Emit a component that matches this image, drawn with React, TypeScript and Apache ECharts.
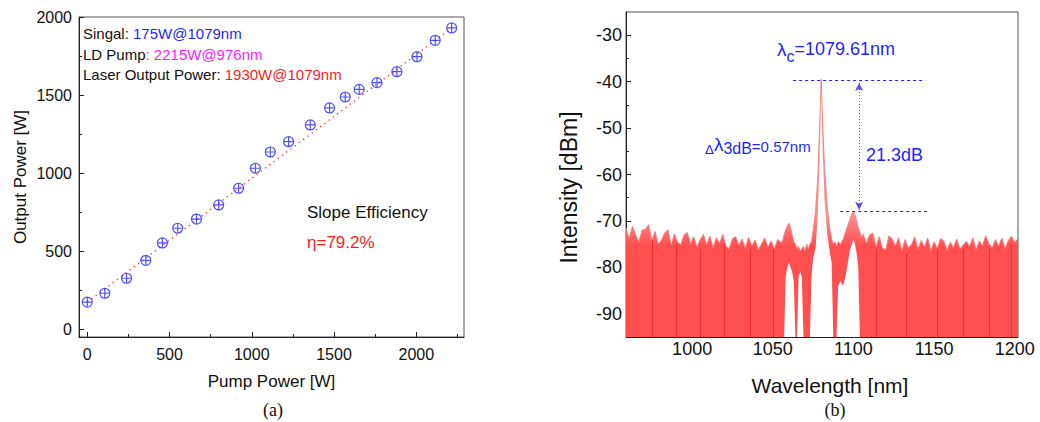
import React, { useEffect, useRef } from "react";
import * as echarts from "echarts";

const SANS = "'Liberation Sans', Arial, Helvetica, sans-serif";
const SERIF = "'Liberation Serif', 'Times New Roman', serif";

// ---------- (a) output power vs pump power ----------
const pumpPower = [0, 107, 239, 356, 457, 550, 664, 799, 920, 1022, 1113, 1224, 1356, 1473, 1568, 1653, 1761, 1882, 2004, 2115, 2215];
const outputPower = [175, 232, 328, 443, 554, 648, 707, 797, 904, 1032, 1136, 1202, 1309, 1418, 1488, 1537, 1580, 1650, 1746, 1851, 1930];
const fitPump = [0, 2215];
const fitOutput = [175, 1930];
const pumpTicks = [0, 500, 1000, 1500, 2000];
const pumpMinorTicks = [250, 750, 1250, 1750, 2250];
const outputTicks = [0, 500, 1000, 1500, 2000];
const outputMinorTicks = [250, 750, 1250, 1750];

// ---------- (b) spectrum ----------
const wavelength = [
  959, 961, 963, 965, 967, 969, 971, 973, 975, 977, 979, 981, 983, 985, 987, 989, 991, 993, 995, 997,
  999, 1001, 1003, 1005, 1007, 1009, 1011, 1013, 1015, 1017, 1019, 1021, 1023, 1025, 1027, 1029, 1031, 1033, 1035, 1037,
  1039, 1041, 1043, 1045, 1047, 1049, 1051, 1053, 1055,
  1056, 1057, 1058, 1059, 1060, 1061, 1062, 1063, 1064, 1065, 1066, 1067, 1068, 1069, 1070, 1071, 1072, 1073, 1074, 1075,
  1076.5, 1078, 1079, 1079.6, 1080, 1080.4, 1081, 1082, 1083.5, 1085, 1086.5, 1087.5, 1088.5, 1089.5, 1090.5, 1092, 1093.5, 1095, 1096.5, 1098,
  1099, 1100, 1101, 1102, 1103, 1104, 1105, 1106,
  1108, 1110, 1112, 1114, 1116, 1118, 1120, 1122, 1124, 1126, 1128, 1130, 1132, 1134, 1136, 1138, 1140, 1142, 1144, 1146,
  1148, 1150, 1152, 1154, 1156, 1158, 1160, 1162, 1164, 1166, 1168, 1170, 1172, 1174, 1176, 1178, 1180, 1182, 1184, 1186,
  1188, 1190, 1192, 1194, 1196, 1198, 1200, 1202,
];
const upperDb = [
  -71.5, -73.8, -71.2, -73.0, -74.5, -72.0, -71.8, -70.8, -74.2, -72.3, -75.0, -74.1, -72.6, -71.9, -75.2, -72.8, -74.6, -75.1, -73.0, -72.5,
  -74.9, -73.4, -75.6, -74.0, -72.9, -75.1, -73.3, -75.8, -73.6, -74.8, -72.9, -75.5, -76.0, -73.8, -73.4, -75.2, -73.9, -75.9, -73.5, -75.4,
  -74.1, -76.2, -75.0, -73.7, -75.6, -74.3, -76.0, -74.0, -74.6,
  -74.5, -73.0, -72.0, -71.0, -70.5, -71.5, -73.0, -74.5, -75.0, -76.0, -75.5, -76.5, -76.0, -75.5, -76.5, -75.0, -76.0, -75.0, -74.5, -72.0,
  -68.0, -60.0, -50.0, -44.0, -39.5, -44.0, -50.0, -58.0, -66.0, -71.0, -74.0, -75.0, -74.5, -75.5, -74.5, -75.0, -74.0, -72.5, -71.0, -69.5,
  -68.5, -68.0, -68.8, -70.0, -71.5, -72.5, -73.5, -72.8,
  -74.8, -73.0, -72.6, -75.5, -73.4, -75.9, -76.2, -73.2, -73.9, -75.4, -73.6, -76.5, -74.0, -75.8, -75.1, -73.4, -76.1, -74.2, -75.6, -73.7,
  -76.4, -74.5, -75.9, -73.8, -74.3, -76.3, -74.6, -75.7, -73.9, -76.0, -75.2, -74.4, -75.5, -73.6, -76.2, -74.3, -75.3, -73.2, -74.9, -75.8,
  -74.0, -75.4, -73.7, -76.0, -74.2, -73.3, -74.6, -73.8,
];
const lowerDb = [
  -95, -95, -95, -95, -95, -95, -95, -95, -95, -95, -95, -95, -95, -95, -95, -95, -95, -95, -95, -95,
  -95, -95, -95, -95, -95, -95, -95, -95, -95, -95, -95, -95, -95, -95, -95, -95, -95, -95, -95, -95,
  -95, -95, -95, -95, -95, -95, -95, -95, -95,
  -95, -95, -82, -80, -79, -80, -81, -83, -95, -95, -82, -81, -82, -95, -95, -95, -95, -95, -82, -78,
  -76, -68, -56, -48, -42, -48, -56, -65, -72, -76, -79, -95, -95, -95, -84, -83, -84, -82, -79, -76,
  -75, -74, -75, -77, -80, -95, -95, -95,
  -95, -95, -95, -95, -95, -95, -95, -95, -95, -95, -95, -95, -95, -95, -95, -95, -95, -95, -95, -95,
  -95, -95, -95, -95, -95, -95, -95, -95, -95, -95, -95, -95, -95, -95, -95, -95, -95, -95, -95, -95,
  -95, -95, -95, -95, -95, -95, -95, -95,
];
// darker streaks seen inside the noise floor
const streakWl = [975, 990, 1005, 1020, 1036, 1050, 1114, 1133, 1152, 1168, 1184, 1198];
const streakTopDb = [-74, -75, -76, -75, -76, -76, -76, -77, -76, -76, -76, -75];

const wlTicks = [1000, 1050, 1100, 1150, 1200];
const wlMinorTicks = [975, 1025, 1075, 1125, 1175];
const dbTicks = [-90, -80, -70, -60, -50, -40, -30];
const dbMinorTicks = [-85, -75, -65, -55, -45, -35];
const peakDb = -39.6;
const sideModeDb = -67.9;

const AX = "#222";
const BLUE = "#1f1fff";
const plain = (v: number) => String(v);

function axisCommon(extra: any) {
  return {
    type: "value",
    splitLine: { show: false },
    axisLine: { show: true, onZero: false, lineStyle: { color: AX, width: 1 } },
    ...extra,
  };
}

export default function App() {
  const ref = useRef<HTMLDivElement>(null);
  useEffect(() => {
    if (!ref.current) return;
    const chart = echarts.init(ref.current, undefined, { renderer: "svg" });

    const scatterData = pumpPower.map((p, i) => [p, outputPower[i]]);
    const fitData = fitPump.map((p, i) => [p, fitOutput[i]]);
    const upperData = wavelength.map((w, i) => [w, upperDb[i]]);
    const lowerData = wavelength.map((w, i) => [w, lowerDb[i]]);
    const streakLines = streakWl.map((w, i) => [{ coord: [w, -95] }, { coord: [w, streakTopDb[i]] }]);

    const leftMin = -50, leftMax = 2290, outMin = -48, outMax = 2000;
    const wlMin = 959, wlMax = 1202, dbMin = -95, dbMax = -25;

    const option: any = {
      animation: false,
      grid: [
        { left: 79, top: 17, width: 385, height: 320, show: true, borderColor: "#555", borderWidth: 1, backgroundColor: "transparent" },
        { left: 626, top: 12, width: 392, height: 325, show: true, borderColor: "#555", borderWidth: 1, backgroundColor: "transparent" },
      ],
      xAxis: [
        axisCommon({
          gridIndex: 0, min: leftMin, max: leftMax, position: "bottom",
          name: "Pump Power [W]", nameLocation: "middle", nameGap: 36,
          nameTextStyle: { fontSize: 17, color: "#111", fontFamily: SANS },
          axisTick: { show: true, inside: true, length: 5, customValues: pumpTicks, lineStyle: { color: AX } },
          axisLabel: { customValues: pumpTicks, formatter: plain, fontSize: 16, color: "#111", margin: 9, fontFamily: SANS },
        }),
        axisCommon({
          gridIndex: 0, min: leftMin, max: leftMax, position: "bottom",
          axisLine: { show: false, onZero: false },
          axisTick: { show: true, inside: true, length: 3, customValues: pumpMinorTicks, lineStyle: { color: AX } },
          axisLabel: { show: false },
        }),
        axisCommon({
          gridIndex: 1, min: wlMin, max: wlMax, position: "bottom",
          name: "Wavelength [nm]", nameLocation: "middle", nameGap: 38,
          nameTextStyle: { fontSize: 21, color: "#111", fontFamily: SANS, padding: [0, 0, 0, 16] },
          axisTick: { show: true, inside: true, length: 5, customValues: wlTicks, lineStyle: { color: AX } },
          axisLabel: { customValues: wlTicks, formatter: plain, fontSize: 18, color: "#111", margin: 3, fontFamily: SANS },
        }),
        axisCommon({
          gridIndex: 1, min: wlMin, max: wlMax, position: "bottom",
          axisLine: { show: false, onZero: false },
          axisTick: { show: true, inside: true, length: 3, customValues: wlMinorTicks, lineStyle: { color: AX } },
          axisLabel: { show: false },
        }),
      ],
      yAxis: [
        axisCommon({
          gridIndex: 0, min: outMin, max: outMax, position: "left",
          name: "Output Power [W]", nameLocation: "middle", nameGap: 50,
          nameTextStyle: { fontSize: 17, color: "#111", fontFamily: SANS },
          axisTick: { show: true, inside: true, length: 5, customValues: outputTicks, lineStyle: { color: AX } },
          axisLabel: { customValues: outputTicks, formatter: plain, fontSize: 16, color: "#111", margin: 7, fontFamily: SANS },
        }),
        axisCommon({
          gridIndex: 0, min: outMin, max: outMax, position: "left",
          axisLine: { show: false, onZero: false },
          axisTick: { show: true, inside: true, length: 3, customValues: outputMinorTicks, lineStyle: { color: AX } },
          axisLabel: { show: false },
        }),
        axisCommon({
          gridIndex: 1, min: dbMin, max: dbMax, position: "left",
          name: "Intensity [dBm]", nameLocation: "middle", nameGap: 46,
          nameTextStyle: { fontSize: 23, color: "#111", fontFamily: SANS, padding: [0, 26, 0, 0] },
          axisTick: { show: true, inside: true, length: 5, customValues: dbTicks, lineStyle: { color: AX } },
          axisLabel: { customValues: dbTicks, formatter: plain, fontSize: 18, color: "#111", margin: 4, fontFamily: SANS },
        }),
        axisCommon({
          gridIndex: 1, min: dbMin, max: dbMax, position: "left",
          axisLine: { show: false, onZero: false },
          axisTick: { show: true, inside: true, length: 3, customValues: dbMinorTicks, lineStyle: { color: AX } },
          axisLabel: { show: false },
        }),
      ],
      series: [
        {
          type: "line", name: "fit", xAxisIndex: 0, yAxisIndex: 0, data: fitData,
          showSymbol: false, silent: true, z: 2,
          lineStyle: { color: "#ff2a2a", width: 1.3, type: [1.3, 4] },
        },
        {
          type: "scatter", name: "output", xAxisIndex: 0, yAxisIndex: 0, data: scatterData,
          symbol: "path://M10,0A10,10,0,1,1,-10,0A10,10,0,1,1,10,0ZM-10,0L10,0M0,-10L0,10",
          symbolSize: 10, z: 3,
          itemStyle: { color: "rgba(0,0,0,0)", borderColor: "#2424ff", borderWidth: 1.2 },
        },
        {
          type: "line", name: "spectrum", xAxisIndex: 2, yAxisIndex: 2, data: upperData,
          showSymbol: false, silent: true, z: 2,
          lineStyle: { color: "#ff7d7d", width: 1 },
          areaStyle: {
            opacity: 1, origin: "start",
            color: {
              type: "linear", x: 0, y: 216, x2: 0, y2: 246, global: true,
              colorStops: [
                { offset: 0, color: "#ff8e8e" },
                { offset: 1, color: "#ff4f4f" },
              ],
            },
          },
          markLine: {
            silent: true, symbol: ["none", "none"], label: { show: false },
            emphasis: { disabled: true },
            lineStyle: { color: "#e01010", type: "solid", width: 1, opacity: 0.55 },
            data: streakLines,
          },
        },
        {
          type: "line", name: "floor", xAxisIndex: 2, yAxisIndex: 2, data: lowerData,
          showSymbol: false, silent: true, z: 3,
          lineStyle: { width: 0, opacity: 0 },
          areaStyle: { color: "#ffffff", opacity: 1, origin: "start" },
        },
        {
          type: "line", name: "marks", xAxisIndex: 2, yAxisIndex: 2, data: [],
          silent: true, z: 5,
          markLine: {
            silent: true, symbol: ["none", "none"], label: { show: false },
            lineStyle: { color: BLUE, type: [3, 3], width: 1 },
            emphasis: { disabled: true },
            data: [
              [{ coord: [1062.6, peakDb] }, { coord: [1144.5, peakDb] }],
              [{ coord: [1091.8, sideModeDb] }, { coord: [1145.7, sideModeDb] }],
              [
                { coord: [1103.5, peakDb - 0.7], symbol: "arrow", symbolSize: [6, 8], lineStyle: { color: "#4a4aff", type: [1, 2], width: 1 } },
                { coord: [1103.5, sideModeDb + 0.3], symbol: "arrow", symbolSize: [6, 8], lineStyle: { color: "#4a4aff", type: [1, 2], width: 1 } },
              ],
            ],
          },
        },
      ],
      graphic: [
        {
          type: "text", x: 83, y: 33, silent: true,
          style: {
            text: "{k|Singal: }{v|175W@1079nm}", verticalAlign: "middle",
            rich: { k: { fill: "#111", fontSize: 15, fontFamily: SANS }, v: { fill: BLUE, fontSize: 15, fontFamily: SANS } },
          },
        },
        {
          type: "text", x: 83, y: 54, silent: true,
          style: {
            text: "{k|LD Pump}{v|: 2215W@976nm}", verticalAlign: "middle",
            rich: { k: { fill: "#111", fontSize: 15, fontFamily: SANS }, v: { fill: "#ff1aff", fontSize: 15, fontFamily: SANS } },
          },
        },
        {
          type: "text", x: 83, y: 74, silent: true,
          style: {
            text: "{k|Laser Output Power: }{v|1930W@1079nm}", verticalAlign: "middle",
            rich: { k: { fill: "#111", fontSize: 15, fontFamily: SANS }, v: { fill: "#ff1a1a", fontSize: 15, fontFamily: SANS } },
          },
        },
        {
          type: "text", x: 307, y: 212, silent: true,
          style: { text: "Slope Efficiency", fill: "#111", fontSize: 17, fontFamily: SANS, verticalAlign: "middle" },
        },
        {
          type: "text", x: 307, y: 242, silent: true,
          style: { text: "η=79.2%", fill: "#ff1a1a", fontSize: 17, fontFamily: SANS, verticalAlign: "middle" },
        },
        {
          type: "text", x: 273, y: 410, silent: true,
          style: { text: "(a)", fill: "#111", fontSize: 18, fontFamily: SERIF, align: "center", verticalAlign: "middle" },
        },
        {
          type: "text", x: 835, y: 410, silent: true,
          style: { text: "(b)", fill: "#111", fontSize: 18, fontFamily: SERIF, align: "center", verticalAlign: "middle" },
        },
        {
          type: "text", x: 777, y: 49, silent: true,
          style: {
            text: "{l|λ}{s|c}{n|=1079.61nm}", verticalAlign: "middle",
            rich: {
              l: { fill: BLUE, fontSize: 19, lineHeight: 30, fontFamily: SANS },
              s: { fill: BLUE, fontSize: 16, lineHeight: 16, verticalAlign: "bottom", fontFamily: SANS },
              n: { fill: BLUE, fontSize: 18, lineHeight: 30, fontFamily: SANS },
            },
          },
        },
        {
          type: "text", x: 705, y: 146.5, silent: true,
          style: {
            text: "{d|Δ}{l|λ}{s|3dB}{n|=0.57nm}", verticalAlign: "middle",
            rich: {
              d: { fill: BLUE, fontSize: 13, padding: [5, 0, 0, 0], fontFamily: "'DejaVu Sans', sans-serif" },
              l: { fill: BLUE, fontSize: 19, padding: [0, 0, 5, 0], fontFamily: SANS },
              s: { fill: BLUE, fontSize: 16, padding: [4, 0, 0, 0], fontFamily: SANS },
              n: { fill: BLUE, fontSize: 15, fontFamily: SANS },
            },
          },
        },
        {
          type: "text", x: 866, y: 155, silent: true,
          style: { text: "21.3dB", fill: BLUE, fontSize: 18, fontFamily: SANS, verticalAlign: "middle" },
        },
      ],
    };
    chart.setOption(option);
    return () => chart.dispose();
  }, []);
  return <div ref={ref} style={{ position: "fixed", left: 0, top: 0, width: 1040, height: 422, background: "#fff" }} />;
}
